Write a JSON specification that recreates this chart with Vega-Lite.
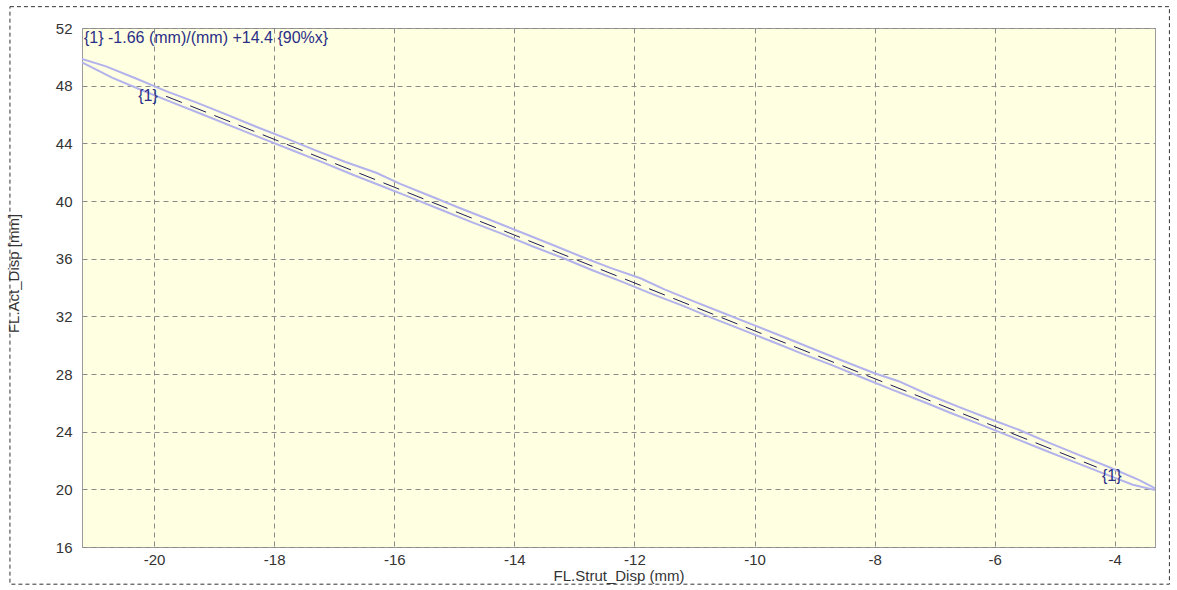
{
  "$schema": "https://vega.github.io/schema/vega-lite/v6.json",
  "width": 1073,
  "height": 519,
  "autosize": "none",
  "padding": {"left": 82, "top": 28, "right": 22, "bottom": 43},
  "background": "#ffffff",
  "config": {
    "view": {"fill": "#ffffe1", "stroke": "#9c9c9c", "strokeWidth": 1},
    "font": "Liberation Sans",
    "axis": {
      "grid": true,
      "gridColor": "#8a8a8a",
      "gridDash": [5, 4],
      "gridWidth": 1,
      "gridOpacity": 1,
      "ticks": false,
      "domain": false,
      "labelFont": "Liberation Sans",
      "labelFontSize": 15,
      "labelColor": "#333333",
      "labelExpr": "'' + datum.value",
      "titleFont": "Liberation Sans",
      "titleFontSize": 15,
      "titleFontWeight": "normal",
      "titleColor": "#333333"
    }
  },
  "datasets": {
    "loop": [
      {"i": 1, "disp": -21.2, "act": 49.85},
      {"i": 2, "disp": -20.8, "act": 49.34},
      {"i": 3, "disp": -20.3, "act": 48.5},
      {"i": 4, "disp": -19.8, "act": 47.62},
      {"i": 5, "disp": -19.3, "act": 46.84},
      {"i": 6, "disp": -18.8, "act": 46.01},
      {"i": 7, "disp": -18.3, "act": 45.15},
      {"i": 8, "disp": -17.8, "act": 44.34},
      {"i": 9, "disp": -17.3, "act": 43.49},
      {"i": 10, "disp": -16.8, "act": 42.69},
      {"i": 11, "disp": -16.3, "act": 41.96},
      {"i": 12, "disp": -15.9, "act": 41.19},
      {"i": 13, "disp": -15.4, "act": 40.35},
      {"i": 14, "disp": -14.9, "act": 39.5},
      {"i": 15, "disp": -14.4, "act": 38.68},
      {"i": 16, "disp": -13.9, "act": 37.85},
      {"i": 17, "disp": -13.4, "act": 37.02},
      {"i": 18, "disp": -12.9, "act": 36.17},
      {"i": 19, "disp": -12.4, "act": 35.36},
      {"i": 20, "disp": -11.9, "act": 34.64},
      {"i": 21, "disp": -11.5, "act": 33.87},
      {"i": 22, "disp": -11.0, "act": 33.02},
      {"i": 23, "disp": -10.5, "act": 32.2},
      {"i": 24, "disp": -10.0, "act": 31.37},
      {"i": 25, "disp": -9.5, "act": 30.55},
      {"i": 26, "disp": -9.0, "act": 29.7},
      {"i": 27, "disp": -8.5, "act": 28.87},
      {"i": 28, "disp": -8.0, "act": 28.05},
      {"i": 29, "disp": -7.6, "act": 27.5},
      {"i": 30, "disp": -7.1, "act": 26.56},
      {"i": 31, "disp": -6.6, "act": 25.72},
      {"i": 32, "disp": -6.1, "act": 24.91},
      {"i": 33, "disp": -5.6, "act": 24.13},
      {"i": 34, "disp": -5.1, "act": 23.24},
      {"i": 35, "disp": -4.6, "act": 22.39},
      {"i": 36, "disp": -4.1, "act": 21.55},
      {"i": 37, "disp": -3.6, "act": 20.66},
      {"i": 38, "disp": -3.35, "act": 20.12},
      {"i": 39, "disp": -3.35, "act": 19.98},
      {"i": 40, "disp": -3.7, "act": 20.32},
      {"i": 41, "disp": -4.2, "act": 21.12},
      {"i": 42, "disp": -4.7, "act": 21.94},
      {"i": 43, "disp": -5.2, "act": 22.76},
      {"i": 44, "disp": -5.7, "act": 23.6},
      {"i": 45, "disp": -6.2, "act": 24.44},
      {"i": 46, "disp": -6.7, "act": 25.24},
      {"i": 47, "disp": -7.2, "act": 26.09},
      {"i": 48, "disp": -7.7, "act": 26.9},
      {"i": 49, "disp": -8.2, "act": 27.74},
      {"i": 50, "disp": -8.7, "act": 28.6},
      {"i": 51, "disp": -9.2, "act": 29.4},
      {"i": 52, "disp": -9.7, "act": 30.24},
      {"i": 53, "disp": -10.2, "act": 31.06},
      {"i": 54, "disp": -10.7, "act": 31.88},
      {"i": 55, "disp": -11.2, "act": 32.74},
      {"i": 56, "disp": -11.7, "act": 33.54},
      {"i": 57, "disp": -12.2, "act": 34.39},
      {"i": 58, "disp": -12.7, "act": 35.2},
      {"i": 59, "disp": -13.2, "act": 36.06},
      {"i": 60, "disp": -13.7, "act": 36.86},
      {"i": 61, "disp": -14.2, "act": 37.72},
      {"i": 62, "disp": -14.7, "act": 38.52},
      {"i": 63, "disp": -15.2, "act": 39.36},
      {"i": 64, "disp": -15.7, "act": 40.2},
      {"i": 65, "disp": -16.2, "act": 41.02},
      {"i": 66, "disp": -16.7, "act": 41.84},
      {"i": 67, "disp": -17.2, "act": 42.7},
      {"i": 68, "disp": -17.7, "act": 43.52},
      {"i": 69, "disp": -18.2, "act": 44.34},
      {"i": 70, "disp": -18.7, "act": 45.18},
      {"i": 71, "disp": -19.2, "act": 46.02},
      {"i": 72, "disp": -19.7, "act": 46.84},
      {"i": 73, "disp": -20.2, "act": 47.68},
      {"i": 74, "disp": -20.7, "act": 48.56},
      {"i": 75, "disp": -21.2, "act": 49.62}
    ],
    "fit": [
      {"disp": -19.8, "act": 47.268},
      {"disp": -4.3, "act": 21.538}
    ],
    "ends": [
      {"disp": -20.1, "act": 47.3, "tag": "{1}"},
      {"disp": -4.05, "act": 20.9, "tag": "{1}"}
    ],
    "note": [
      {"disp": -21.2, "act": 52, "eq": "{1} -1.66 (mm)/(mm) +14.4 {90%x}"}
    ]
  },
  "layer": [
    {
      "data": {"values": [{}]},
      "mark": {"type": "rect", "clip": false, "fillOpacity": 0, "stroke": "#333333", "strokeWidth": 1, "strokeDash": [4, 3]},
      "encoding": {
        "x": {"datum": -22.4},
        "x2": {"datum": -3.09},
        "y": {"datum": 53.48},
        "y2": {"datum": 13.42}
      }
    },
    {
      "data": {"name": "loop"},
      "mark": {"type": "line", "color": "#b2b2ec", "strokeWidth": 2, "clip": true},
      "encoding": {
        "x": {
          "field": "disp", "type": "quantitative",
          "scale": {"domain": [-21.2, -3.33], "nice": false, "zero": false},
          "axis": {"values": [-20, -18, -16, -14, -12, -10, -8, -6, -4], "title": "FL.Strut_Disp (mm)", "labelPadding": 5, "titlePadding": 1}
        },
        "y": {
          "field": "act", "type": "quantitative",
          "scale": {"domain": [16, 52], "nice": false, "zero": false},
          "axis": {"values": [16, 20, 24, 28, 32, 36, 40, 44, 48, 52], "title": "FL.Act_Disp [mm]", "labelPadding": 10, "titleX": -61, "titleY": 245}
        },
        "order": {"field": "i", "type": "quantitative"}
      }
    },
    {
      "data": {"name": "fit"},
      "mark": {"type": "line", "color": "#1c1c58", "strokeWidth": 1, "strokeDash": [17, 9]},
      "encoding": {
        "x": {"field": "disp", "type": "quantitative"},
        "y": {"field": "act", "type": "quantitative"}
      }
    },
    {
      "data": {"name": "ends"},
      "mark": {"type": "text", "color": "#2a2f88", "fontSize": 16, "font": "Liberation Sans", "align": "center", "baseline": "middle"},
      "encoding": {
        "x": {"field": "disp", "type": "quantitative"},
        "y": {"field": "act", "type": "quantitative"},
        "text": {"field": "tag"}
      }
    },
    {
      "data": {"name": "note"},
      "mark": {"type": "text", "color": "#2a2f88", "fontSize": 16, "font": "Liberation Sans", "align": "left", "baseline": "top", "dx": 2, "dy": 2},
      "encoding": {
        "x": {"field": "disp", "type": "quantitative"},
        "y": {"field": "act", "type": "quantitative"},
        "text": {"field": "eq"}
      }
    }
  ]
}
